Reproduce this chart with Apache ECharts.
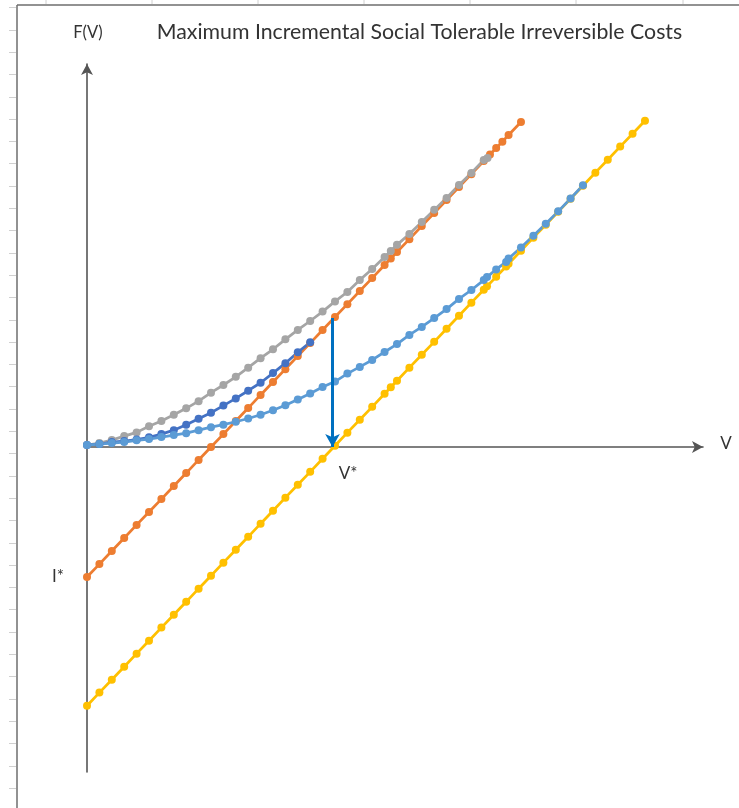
<!DOCTYPE html>
<html>
<head>
<meta charset="utf-8">
<script src="https://cdn.jsdelivr.net/npm/echarts@6/dist/echarts.min.js"></script>
<style>
  html, body { margin: 0; padding: 0; background: #ffffff; }
  #chart { width: 739px; height: 808px; }
</style>
</head>
<body>
<div id="chart"></div>
<script>
// ---------- DATA ----------
const titleText = 'Maximum Incremental Social Tolerable Irreversible Costs';
const yAxisName = 'F(V)';
const xAxisName = 'V';
const vStarLabel = 'V*';
const iStarLabel = 'I*';

// Orange: V - I*
const orangeV = [0,0.5,1,1.5,2,2.5,3,3.5,4,4.5,5,5.5,6,6.5,7,7.5,8,8.5,9,9.5,10,10.5,11,11.5,12,12.25,12.5,13,13.5,14,14.5,15,15.5,16,16.25,16.5,16.75,17,17.5];
const orangeF = [-5.24,-4.72,-4.19,-3.67,-3.14,-2.62,-2.10,-1.57,-1.05,-0.52,0,0.52,1.05,1.57,2.10,2.62,3.14,3.67,4.19,4.72,5.24,5.76,6.29,6.81,7.34,7.60,7.86,8.38,8.91,9.43,9.96,10.48,11.00,11.53,11.79,12.05,12.31,12.58,13.10];

// Yellow: V - (larger) cost
const yellowV = [0,0.5,1,1.5,2,2.5,3,3.5,4,4.5,5,5.5,6,6.5,7,7.5,8,8.5,9,9.5,10,10.5,11,11.5,12,12.25,12.5,13,13.5,14,14.5,15,15.5,16,16.13,16.5,16.9,17,17.5,18,18.5,19,19.5,20,20.5,21,21.5,22,22.5];
const yellowF = [-10.43,-9.90,-9.38,-8.86,-8.33,-7.81,-7.28,-6.76,-6.24,-5.71,-5.19,-4.66,-4.14,-3.62,-3.09,-2.57,-2.04,-1.52,-1.00,-0.47,0.05,0.58,1.10,1.62,2.15,2.41,2.67,3.20,3.72,4.24,4.77,5.29,5.82,6.34,6.48,6.86,7.28,7.39,7.91,8.44,8.96,9.48,10.01,10.53,11.06,11.58,12.11,12.63,13.15];

// Grey curve
const greyV = [0,0.5,1,1.5,2,2.5,3,3.5,4,4.5,5,5.5,6,6.5,7,7.5,8,8.5,9,9.5,10,10.5,11,11.5,12,12.25,12.5,13,13.5,14,14.5,15,15.5,16,16.15];
const greyF = [0.08,0.16,0.28,0.44,0.59,0.84,1.05,1.30,1.56,1.85,2.19,2.50,2.83,3.20,3.58,3.94,4.34,4.72,5.08,5.46,5.87,6.25,6.73,7.18,7.66,7.90,8.15,8.59,9.07,9.56,10.04,10.56,11.05,11.57,11.65];

// Dark blue curve
const darkBlueV = [0,0.5,1,1.5,2,2.5,3,3.5,4,4.5,5,5.5,6,6.5,7,7.5,8,8.5,9];
const darkBlueF = [0.08,0.12,0.20,0.24,0.30,0.39,0.52,0.68,0.90,1.14,1.38,1.67,1.96,2.27,2.59,2.98,3.38,3.82,4.22];

// Light blue curve
const lightBlueV = [0,0.5,1,1.5,2,2.5,3,3.5,4,4.5,5,5.5,6,6.5,7,7.5,8,8.5,9,9.5,10,10.5,11,11.5,12,12.5,13,13.5,14,14.5,15,15.5,16,16.13,16.5,16.9,17,17.5,18,18.5,19,19.5,20];
const lightBlueF = [0.08,0.12,0.16,0.20,0.27,0.32,0.40,0.48,0.56,0.68,0.80,0.90,1.02,1.15,1.30,1.48,1.68,1.92,2.16,2.42,2.64,2.96,3.23,3.51,3.83,4.15,4.52,4.84,5.20,5.56,5.97,6.33,6.73,6.85,7.16,7.46,7.60,8.04,8.52,9.00,9.50,10.02,10.55];

// Blue arrow from the orange line down to V*
const arrowV = [9.9, 9.9];
const arrowF = [5.2, 0];

// ---------- CHART ----------
const pair = (xs, ys) => xs.map((x, i) => [x, ys[i]]);
const chart = echarts.init(document.getElementById('chart'), null, { renderer: 'canvas' });

const FONT = 'Lato, "Open Sans", sans-serif';
const decor = [];
// spreadsheet frame
decor.push({ type: 'line', shape: { x1: 17, y1: 5, x2: 17, y2: 808 }, style: { stroke: '#6e6e6e', lineWidth: 1.5 }, silent: true });
decor.push({ type: 'line', shape: { x1: 17, y1: 5, x2: 739, y2: 5 }, style: { stroke: '#6e6e6e', lineWidth: 1.5 }, silent: true });
[46, 152, 258, 364, 470, 576, 683].forEach(x => decor.push({ type: 'line', shape: { x1: x, y1: 0, x2: x, y2: 4 }, style: { stroke: '#d0d0d0', lineWidth: 1 }, silent: true }));
for (let k = 0; k < 37; k++) {
  const y = Math.round(7.3 + 22.3 * k) + 0.5;
  decor.push({ type: 'line', shape: { x1: 9, y1: y, x2: 16, y2: y }, style: { stroke: '#d0d0d0', lineWidth: 1 }, silent: true });
}
const txt = (s, x, y, size, align) => ({ type: 'text', silent: true, style: { text: s, x: x, y: y, fill: '#333333', font: size + 'px ' + FONT, textAlign: align || 'center', textVerticalAlign: 'middle' } });
decor.push(txt(titleText, 419.5, 32, 21.3));
decor.push(txt(yAxisName, 88, 33, 16.5));
decor.push(txt(xAxisName, 726, 444, 17));
decor.push(txt(vStarLabel, 348, 474, 17));
decor.push(txt(iStarLabel, 58, 577, 17));

const lineSeries = (name, color, xs, ys) => ({
  name: name, type: 'line', data: pair(xs, ys),
  symbol: 'circle', symbolSize: 8, showSymbol: true,
  itemStyle: { color: color }, lineStyle: { color: color, width: 2.75 },
  smooth: false, silent: true, emphasis: { disabled: true }
});

chart.setOption({
  animation: false,
  backgroundColor: '#ffffff',
  grid: { left: 87, right: 36, top: 64, bottom: 36, containLabel: false },
  xAxis: {
    type: 'value', min: 0, max: 24.84,
    axisLine: { show: true, onZero: true, symbol: ['none', 'arrow'], symbolSize: [9, 11], lineStyle: { color: '#555555', width: 1.6 } },
    axisTick: { show: false }, axisLabel: { show: false }, splitLine: { show: false }
  },
  yAxis: {
    type: 'value', min: -13.1, max: 15.44,
    axisLine: { show: true, onZero: true, symbol: ['none', 'arrow'], symbolSize: [9, 11], lineStyle: { color: '#555555', width: 1.6 } },
    axisTick: { show: false }, axisLabel: { show: false }, splitLine: { show: false }
  },
  series: [
    lineSeries('Orange', '#ED7D31', orangeV, orangeF),
    lineSeries('Yellow', '#FFC000', yellowV, yellowF),
    lineSeries('Grey', '#A5A5A5', greyV, greyF),
    lineSeries('Dark blue', '#4472C4', darkBlueV, darkBlueF),
    lineSeries('Light blue', '#5B9BD5', lightBlueV, lightBlueF),
    {
      name: 'arrow', type: 'line', data: [], silent: true,
      markLine: {
        silent: true, animation: false,
        symbol: ['none', 'arrow'], symbolSize: [11, 13],
        label: { show: false },
        lineStyle: { color: '#0070C0', width: 3, type: 'solid' },
        emphasis: { disabled: true },
        data: [[{ coord: [arrowV[0], arrowF[0]] }, { coord: [arrowV[1], arrowF[1]] }]]
      }
    }
  ],
  graphic: decor
});
</script>
</body>
</html>
